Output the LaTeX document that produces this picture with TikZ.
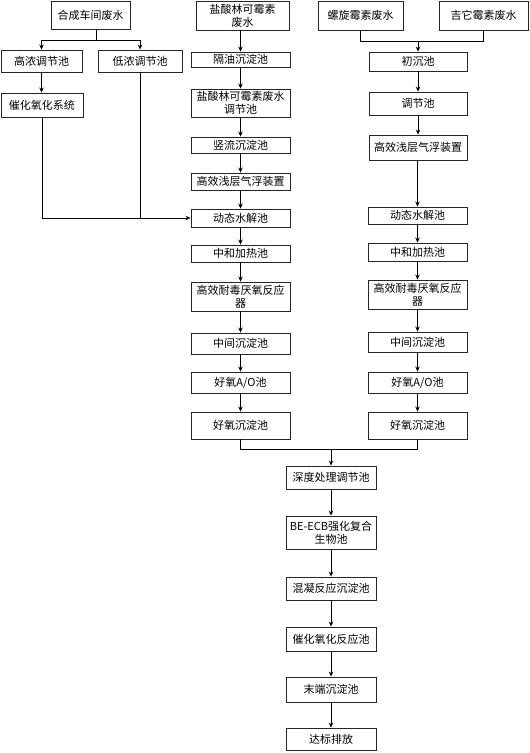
\documentclass[tikz,border=0pt]{standalone}
\usepackage{fontspec}
\newfontfamily\cjk{Noto Sans CJK SC}
\usetikzlibrary{arrows.meta,calc}
\newcommand\mybox[6]{\node[box, minimum width={#4-#2}, minimum height={#5-#3}] (#1) at ({(#2+#4)/2},{-(#3+#5)/2}) {#6};}
\begin{document}
\begin{tikzpicture}[x=1pt,y=1pt,
  box/.style={draw=black!85, line width=0.9pt, inner sep=0pt, align=center,
    font=\cjk\fontsize{11}{13}\selectfont},
  flow/.style={line width=0.7pt, -{Stealth[length=5pt,width=4.5pt]}},
  link/.style={line width=0.7pt}]
\fill[white] (0,0) rectangle (530,-753);
\useasboundingbox (0,0) rectangle (530,-753);

% left column
\mybox{hc}{51}{1}{130}{29}{合成车间废水}
\mybox{gn}{1}{50}{82}{72}{高浓调节池}
\mybox{dn}{98}{50}{182}{72}{低浓调节池}
\mybox{ch}{1}{93}{83}{117}{催化氧化系统}

% middle column
\mybox{m0}{196}{1}{289}{30}{盐酸林可霉素\\废水}
\mybox{m1}{191}{52}{290}{67}{隔油沉淀池}
\mybox{m2}{191}{89}{290}{117}{盐酸林可霉素废水\\调节池}
\mybox{m3}{191}{137}{290}{153}{竖流沉淀池}
\mybox{m4}{191}{173}{290}{190}{高效浅层气浮装置}
\mybox{m5}{191}{209}{290}{227}{动态水解池}
\mybox{m6}{191}{245}{290}{262}{中和加热池}
\mybox{m7}{191}{282}{290}{311}{高效耐毒厌氧反应\\器}
\mybox{m8}{191}{333}{290}{354}{中间沉淀池}
\mybox{m9}{191}{372}{290}{393}{好氧A/O池}
\mybox{m10}{191}{412}{290}{439}{好氧沉淀池}

% right column
\mybox{ra}{318}{1}{403}{30}{螺旋霉素废水}
\mybox{rb}{439}{1}{528}{30}{吉它霉素废水}
\mybox{r1}{369}{52}{467}{71}{初沉池}
\mybox{r2}{369}{92}{467}{115}{调节池}
\mybox{r3}{369}{135}{467}{160}{高效浅层气浮装置}
\mybox{r4}{368}{207}{467}{224}{动态水解池}
\mybox{r5}{368}{243}{467}{261}{中和加热池}
\mybox{r6}{368}{280}{467}{309}{高效耐毒厌氧反应\\器}
\mybox{r7}{368}{332}{467}{352}{中间沉淀池}
\mybox{r8}{368}{372}{467}{393}{好氧A/O池}
\mybox{r9}{368}{412}{467}{439}{好氧沉淀池}

% bottom column
\mybox{b1}{286}{466}{376}{489}{深度处理调节池}
\mybox{b2}{286}{516}{376}{549}{BE-ECB强化复合\\生物池}
\mybox{b3}{286}{577}{376}{600}{混凝反应沉淀池}
\mybox{b4}{286}{627}{376}{651}{催化氧化反应池}
\mybox{b5}{286}{677}{376}{702}{末端沉淀池}
\mybox{b6}{286}{728}{376}{750}{达标排放}

% left connectors
\coordinate (sp) at (96,-40);
\draw[link] (hc.south -| sp) -- (sp);
\draw[link] (gn.north |- sp) -- (dn.north |- sp);
\draw[flow] (gn.north |- sp) -- (gn.north);
\draw[flow] (dn.north |- sp) -- (dn.north);
\draw[flow] (gn.south) -- (gn.south |- ch.north);
\draw[flow] (ch.south) |- (m5.west);
\draw[link] (dn.south) -- (dn.south |- m5.west);

% middle connectors
\foreach \a/\b in {m0/m1,m1/m2,m2/m3,m3/m4,m4/m5,m5/m6,m6/m7,m7/m8,m8/m9,m9/m10}
  \draw[flow] (\b.north |- \a.south) -- (\b.north);

% right connectors
\coordinate (rj) at (418,-41);
\draw[link] (ra.south) |- (rj);
\draw[link] (rb.south) |- (rj);
\draw[flow] (rj) -- (r1.north);
\foreach \a/\b in {r1/r2,r2/r3,r3/r4,r4/r5,r5/r6,r6/r7,r7/r8,r8/r9}
  \draw[flow] (\b.north |- \a.south) -- (\b.north);

% bottom connectors
\coordinate (bj) at (331,-449);
\draw[link] (m10.south) |- (bj);
\draw[link] (r9.south) |- (bj);
\draw[flow] (bj) -- (b1.north);
\foreach \a/\b in {b1/b2,b2/b3,b3/b4,b4/b5,b5/b6}
  \draw[flow] (\b.north |- \a.south) -- (\b.north);
\end{tikzpicture}
\end{document}
